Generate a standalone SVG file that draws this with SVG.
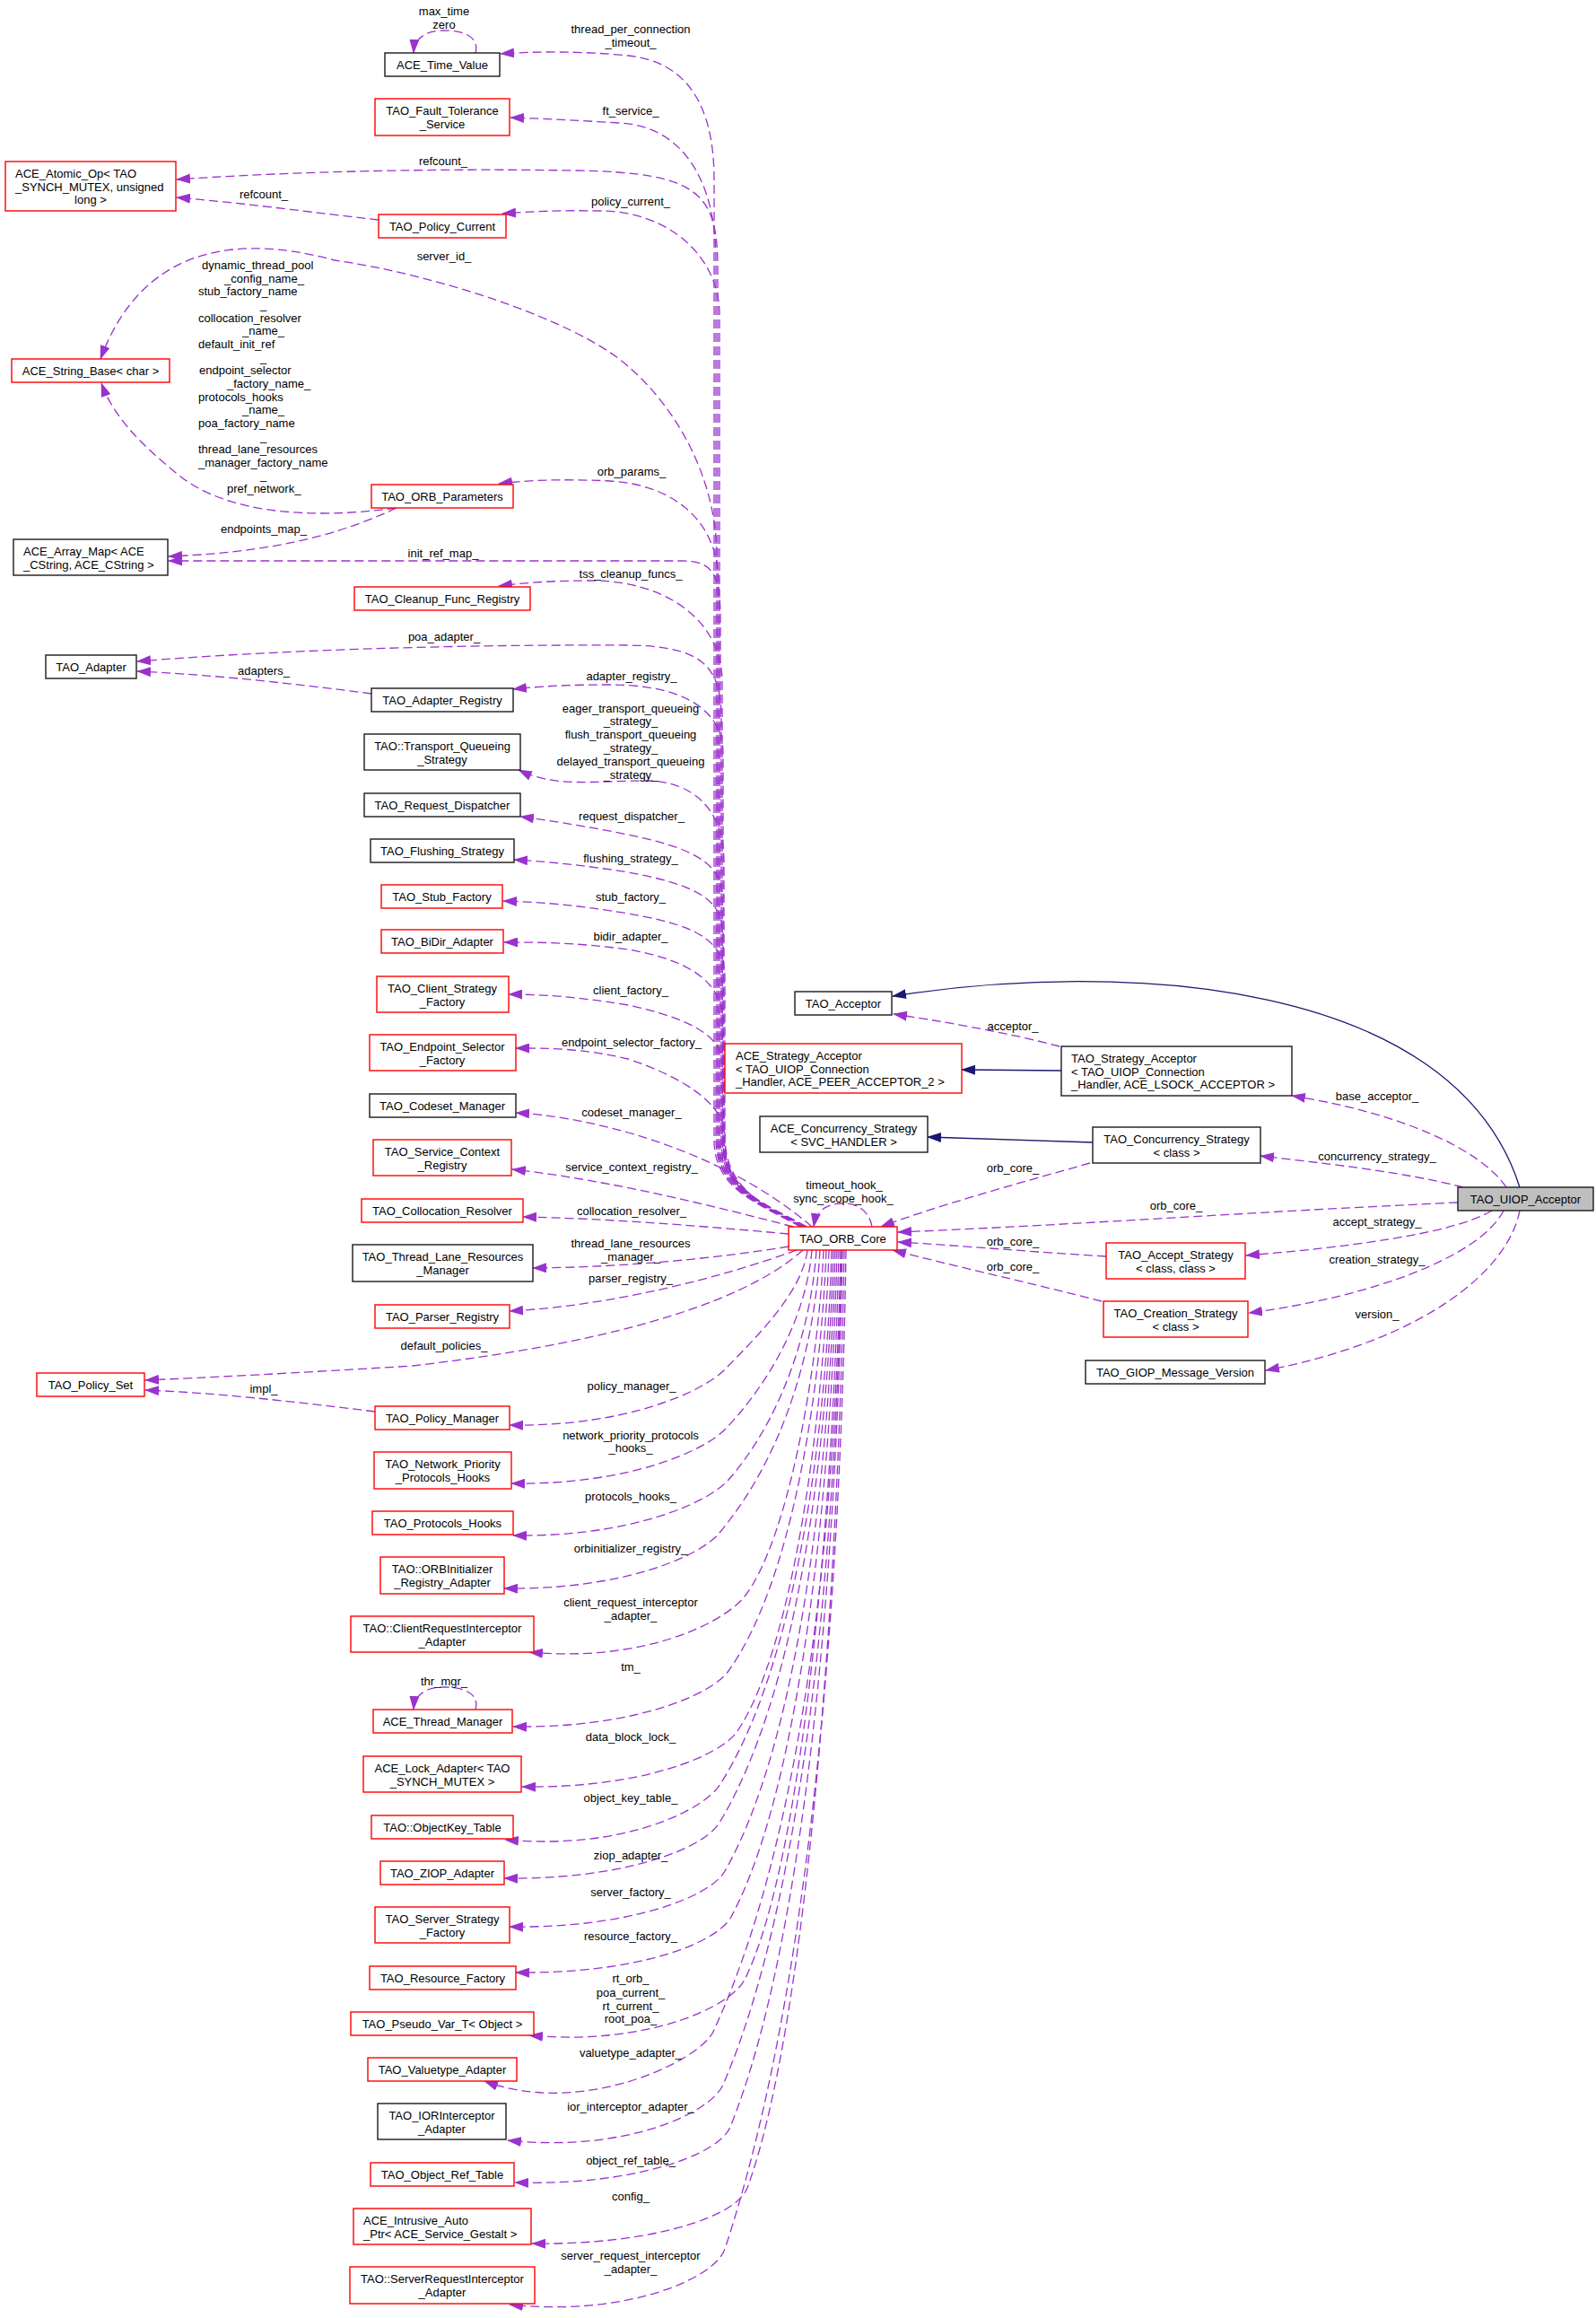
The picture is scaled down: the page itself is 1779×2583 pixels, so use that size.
<svg xmlns="http://www.w3.org/2000/svg" width="1779" height="2583" viewBox="0 0 1779 2583">
<style>
text{font-family:"Liberation Sans",Arial,Helvetica,sans-serif;font-size:13px;fill:#000}
.m{text-anchor:middle}
.s{text-anchor:start}
rect{fill:#fff;stroke-width:1.4}
.r rect{stroke:#ff0000}
.b rect{stroke:#1a1a1a}
.g rect{stroke:#1a1a1a;fill:#bfbfbf}
.e{fill:none;stroke:#9a32cd;stroke-width:1.3;stroke-dasharray:10,5;marker-end:url(#ap)}
.i{fill:none;stroke:#191970;stroke-width:1.3;marker-end:url(#an)}
</style>
<defs>
<marker id="ap" viewBox="0 0 16 11" refX="15" refY="5.5" markerWidth="16" markerHeight="11" markerUnits="userSpaceOnUse" orient="auto"><path d="M0,0 L16,5.5 L0,11 z" fill="#9a32cd"/></marker>
<marker id="an" viewBox="0 0 16 11" refX="15" refY="5.5" markerWidth="16" markerHeight="11" markerUnits="userSpaceOnUse" orient="auto"><path d="M0,0 L16,5.5 L0,11 z" fill="#191970"/></marker>
</defs>
<rect x="0" y="0" width="1779" height="2583" style="fill:#fff;stroke:none"/>

<g id="edges">
<path class="e" d="M893,1367 C843,1340 796,1325 796,1270 L796,200 C796,110 760,68 700,62 C650,57 600,57 558,60"/>
<path class="e" d="M895,1367 C845,1340 798,1325 798,1270 L798,290 C798,200 760,140 690,137 C640,134 600,132 569,131"/>
<path class="e" d="M897,1367 C847,1340 800,1325 800,1270 L800,300 C800,215 780,192 640,190 C450,187 300,193 197,200"/>
<path class="e" d="M899,1367 C849,1340 802,1325 802,1270 L802,350 C802,290 750,236 670,235 C620,234 590,236 560,238"/>
<path class="e" d="M893,1367 C843,1340 799,1325 799,1270 L799,620 C799,540 760,460 700,408 C640,355 480,305 373,290 C270,262 160,270 112,400"/>
<path class="e" d="M895,1367 C845,1340 801,1325 801,1270 L801,650 C801,580 750,540 680,536 C620,533 580,536 556,539"/>
<path class="e" d="M897,1367 C847,1340 803,1325 803,1270 L803,690 C803,640 795,625 760,625 L188,625"/>
<path class="e" d="M899,1367 C849,1340 805,1325 805,1270 L805,760 C805,690 740,647 660,647 C610,647 580,650 556,653"/>
<path class="e" d="M893,1367 C843,1340 804,1325 804,1270 L804,800 C804,740 780,720 700,719 C500,718 300,725 153,737"/>
<path class="e" d="M895,1367 C845,1340 806,1325 806,1270 L806,840 C806,790 760,763 680,763 C630,763 600,765 572,768"/>
<path class="e" d="M897,1367 C847,1340 807,1325 807,1270 L807,960 C807,900 770,870 720,870 C660,870 620,878 578,858"/>
<path class="e" d="M899,1367 C849,1340 805,1325 805,1270 L805,1000 C805,960 770,945 700,930 C650,920 610,914 580,910"/>
<path class="e" d="M893,1367 C843,1340 806,1325 806,1270 L806,1040 C806,1000 770,985 700,972 C650,964 610,960 573,958"/>
<path class="e" d="M895,1367 C845,1340 808,1325 808,1270 L808,1090 C808,1045 770,1030 700,1018 C640,1008 600,1005 561,1004"/>
<path class="e" d="M897,1367 C847,1340 806,1325 806,1270 L806,1140 C806,1095 770,1070 700,1058 C640,1050 600,1050 562,1050"/>
<path class="e" d="M899,1367 C849,1340 807,1325 807,1270 L807,1190 C807,1155 770,1135 700,1120 C640,1110 600,1108 567,1108"/>
<path class="e" d="M893,1367 C843,1340 808,1320 808,1265 C808,1230 760,1200 700,1180 C650,1168 610,1168 575,1168"/>
<path class="e" d="M905,1367 C850,1320 780,1285 700,1262 C650,1248 610,1242 575,1240"/>
<path class="e" d="M884,1367 C800,1345 680,1315 571,1303"/>
<path class="e" d="M879,1375 C780,1366 680,1358 583,1356"/>
<path class="e" d="M879,1389 C800,1402 700,1412 594,1413"/>
<path class="e" d="M888,1393 C800,1425 680,1455 568,1461"/>
<path class="e" d="M895,1393 C820,1460 650,1500 460,1522 C330,1530 230,1535 162,1538"/>
<path class="e" d="M900,1393 C894,1440 845,1488 808,1526 C783,1551 698,1590 568,1588"/>
<path class="e" d="M905,1393 C899,1462 864,1533 810,1591 C786,1617 700,1655 570,1653"/>
<path class="e" d="M910,1393 C904,1483 870,1583 812,1649 C789,1675 702,1713 572,1711"/>
<path class="e" d="M914,1393 C908,1503 874,1622 802,1708 C780,1735 692,1772 562,1770"/>
<path class="e" d="M918,1393 C912,1528 878,1717 830,1779 C808,1807 720,1853 590,1841"/>
<path class="e" d="M921,1393 C915,1557 881,1766 812,1862 C792,1890 702,1926 572,1924"/>
<path class="e" d="M924,1393 C918,1581 884,1837 822,1929 C802,1958 712,1993 582,1991"/>
<path class="e" d="M927,1393 C921,1601 887,1855 803,1988 C784,2018 693,2062 563,2050"/>
<path class="e" d="M929,1393 C923,1616 889,1887 802,2031 C784,2061 692,2095 562,2093"/>
<path class="e" d="M931,1393 C925,1635 891,1940 808,2085 C791,2115 698,2149 568,2147"/>
<path class="e" d="M933,1393 C927,1653 893,1991 815,2136 C798,2167 705,2200 575,2198"/>
<path class="e" d="M935,1393 C929,1678 895,2075 830,2206 C814,2237 720,2280 590,2268"/>
<path class="e" d="M937,1393 C931,1698 897,2044 795,2264 C780,2296 650,2360 540,2319"/>
<path class="e" d="M938,1393 C932,1719 898,2110 806,2323 C792,2355 696,2399 566,2385"/>
<path class="e" d="M939,1393 C933,1735 899,2160 814,2370 C801,2402 704,2436 574,2432"/>
<path class="e" d="M941,1393 C935,1759 901,2253 833,2438 C821,2471 723,2502 593,2500"/>
<path class="e" d="M943,1393 C937,1783 903,2219 808,2506 C797,2539 698,2582 568,2568"/>
<path class="e" d="M422,245 C350,237 270,226 197,220"/>
<path class="e" d="M442,566 C340,580 250,570 200,530 C150,490 125,460 113,427"/>
<path class="e" d="M442,566 C390,590 320,615 188,620"/>
<path class="e" d="M414,773 C330,762 240,752 153,748"/>
<path class="e" d="M418,1573 C330,1562 240,1552 162,1549"/>
<path class="e" d="M1181,1166 C1120,1150 1050,1138 996,1130"/>
<path class="i" d="M1183,1193 L1072,1192"/>
<path class="i" d="M1218,1273 L1034,1267"/>
<path class="i" d="M1694,1323 C1620,1090 1250,1070 995,1110"/>
<path class="e" d="M1679,1323 C1650,1280 1560,1240 1440,1221"/>
<path class="e" d="M1631,1323 C1560,1305 1480,1297 1405,1288"/>
<path class="e" d="M1625,1340 C1400,1350 1200,1365 1001,1373"/>
<path class="e" d="M1663,1349 C1620,1375 1500,1390 1389,1399"/>
<path class="e" d="M1676,1349 C1650,1400 1530,1445 1392,1463"/>
<path class="e" d="M1694,1349 C1680,1420 1580,1495 1411,1527"/>
<path class="e" d="M1215,1296 C1130,1320 1040,1345 982,1367"/>
<path class="e" d="M1233,1400 C1150,1395 1070,1388 1001,1384"/>
<path class="e" d="M1228,1450 C1150,1430 1060,1410 995,1393"/>
<path class="e" d="M972,1367 C968,1345 950,1340 937,1341 C922,1342 910,1348 907,1367"/>
<path class="e" d="M530,59 C535,40 515,34 495,34 C475,34 462,42 461,59"/>
<path class="e" d="M530,1905 C535,1886 515,1880 495,1880 C475,1880 462,1888 461,1905"/>
</g>

<g id="edge-labels">
<text class="m" x="495" y="17">max_time</text>
<text class="m" x="495" y="32">zero</text>
<text class="m" x="703" y="37">thread_per_connection</text>
<text class="m" x="703" y="52">_timeout_</text>
<text class="m" x="703" y="128">ft_service_</text>
<text class="m" x="494" y="184">refcount_</text>
<text class="m" x="294" y="221">refcount_</text>
<text class="m" x="703" y="229">policy_current_</text>
<text class="m" x="495" y="290">server_id_</text>
<text class="s" x="225" y="300">dynamic_thread_pool</text>
<text class="s" x="250" y="314.7">_config_name_</text>
<text class="s" x="221" y="329.3">stub_factory_name</text>
<text class="s" x="290" y="344">_</text>
<text class="s" x="221" y="358.6">collocation_resolver</text>
<text class="s" x="270" y="373.3">_name_</text>
<text class="s" x="221" y="387.9">default_init_ref</text>
<text class="s" x="290" y="402.6">_</text>
<text class="s" x="222" y="417.2">endpoint_selector</text>
<text class="s" x="253" y="431.9">_factory_name_</text>
<text class="s" x="221" y="446.5">protocols_hooks</text>
<text class="s" x="270" y="461.2">_name_</text>
<text class="s" x="221" y="475.8">poa_factory_name</text>
<text class="s" x="290" y="490.5">_</text>
<text class="s" x="221" y="505.1">thread_lane_resources</text>
<text class="s" x="221" y="519.8">_manager_factory_name</text>
<text class="s" x="290" y="534.4">_</text>
<text class="s" x="253" y="549.1">pref_network_</text>
<text class="m" x="704" y="530">orb_params_</text>
<text class="m" x="294" y="594">endpoints_map_</text>
<text class="m" x="494" y="621">init_ref_map_</text>
<text class="m" x="703" y="644">tss_cleanup_funcs_</text>
<text class="m" x="495" y="714">poa_adapter_</text>
<text class="m" x="294" y="752">adapters_</text>
<text class="m" x="704" y="758">adapter_registry_</text>
<text class="m" x="703" y="794">eager_transport_queueing</text>
<text class="m" x="703" y="808">_strategy_</text>
<text class="m" x="703" y="823">flush_transport_queueing</text>
<text class="m" x="703" y="838">_strategy_</text>
<text class="m" x="703" y="853">delayed_transport_queueing</text>
<text class="m" x="703" y="868">_strategy_</text>
<text class="m" x="704" y="914">request_dispatcher_</text>
<text class="m" x="703" y="961">flushing_strategy_</text>
<text class="m" x="703" y="1004">stub_factory_</text>
<text class="m" x="703" y="1048">bidir_adapter_</text>
<text class="m" x="703" y="1108">client_factory_</text>
<text class="m" x="704" y="1166">endpoint_selector_factory_</text>
<text class="m" x="704" y="1244">codeset_manager_</text>
<text class="m" x="704" y="1305">service_context_registry_</text>
<text class="m" x="704" y="1354">collocation_resolver_</text>
<text class="m" x="703" y="1390">thread_lane_resources</text>
<text class="m" x="703" y="1405">_manager_</text>
<text class="m" x="703" y="1429">parser_registry_</text>
<text class="m" x="495" y="1504">default_policies_</text>
<text class="m" x="294" y="1552">impl_</text>
<text class="m" x="704" y="1549">policy_manager_</text>
<text class="m" x="703" y="1604">network_priority_protocols</text>
<text class="m" x="703" y="1618">_hooks_</text>
<text class="m" x="703" y="1672">protocols_hooks_</text>
<text class="m" x="703" y="1730">orbinitializer_registry_</text>
<text class="m" x="703" y="1790">client_request_interceptor</text>
<text class="m" x="703" y="1805">_adapter_</text>
<text class="m" x="703" y="1862">tm_</text>
<text class="m" x="495" y="1878">thr_mgr_</text>
<text class="m" x="703" y="1940">data_block_lock_</text>
<text class="m" x="703" y="2008">object_key_table_</text>
<text class="m" x="703" y="2072">ziop_adapter_</text>
<text class="m" x="703" y="2113">server_factory_</text>
<text class="m" x="703" y="2162">resource_factory_</text>
<text class="m" x="703" y="2209">rt_orb_</text>
<text class="m" x="703" y="2225">poa_current_</text>
<text class="m" x="703" y="2240">rt_current_</text>
<text class="m" x="703" y="2254">root_poa_</text>
<text class="m" x="703" y="2292">valuetype_adapter_</text>
<text class="m" x="703" y="2352">ior_interceptor_adapter_</text>
<text class="m" x="703" y="2412">object_ref_table_</text>
<text class="m" x="703" y="2452">config_</text>
<text class="m" x="703" y="2518">server_request_interceptor</text>
<text class="m" x="703" y="2533">_adapter_</text>
<text class="m" x="1129" y="1148">acceptor_</text>
<text class="m" x="1535" y="1226">base_acceptor_</text>
<text class="m" x="1535" y="1293">concurrency_strategy_</text>
<text class="m" x="1129" y="1306">orb_core_</text>
<text class="m" x="941" y="1325">timeout_hook_</text>
<text class="m" x="940" y="1340">sync_scope_hook_</text>
<text class="m" x="1311" y="1348">orb_core_</text>
<text class="m" x="1535" y="1366">accept_strategy_</text>
<text class="m" x="1129" y="1388">orb_core_</text>
<text class="m" x="1535" y="1408">creation_strategy_</text>
<text class="m" x="1129" y="1416">orb_core_</text>
<text class="m" x="1535" y="1469">version_</text>
</g>

<g id="n1" class="b"><rect x="429" y="59" width="128" height="26"/><text class="m" x="493" y="76.5">ACE_Time_Value</text></g>
<g id="n2" class="r"><rect x="418" y="110" width="150" height="41"/><text class="m" x="493" y="128">TAO_Fault_Tolerance</text><text class="m" x="493" y="142.5">_Service</text></g>
<g id="n3" class="r"><rect x="6" y="180" width="190" height="55"/><text class="s" x="17" y="198">ACE_Atomic_Op&lt; TAO</text><text class="s" x="17" y="212.5">_SYNCH_MUTEX, unsigned</text><text class="m" x="101" y="227">long &gt;</text></g>
<g id="n4" class="r"><rect x="422" y="239" width="142" height="26"/><text class="m" x="493" y="256.5">TAO_Policy_Current</text></g>
<g id="n5" class="r"><rect x="13" y="400" width="176" height="26"/><text class="m" x="101" y="417.5">ACE_String_Base&lt; char &gt;</text></g>
<g id="n6" class="r"><rect x="414" y="540" width="158" height="26"/><text class="m" x="493" y="557.5">TAO_ORB_Parameters</text></g>
<g id="n7" class="b"><rect x="15" y="601" width="172" height="40"/><text class="s" x="26" y="619">ACE_Array_Map&lt; ACE</text><text class="s" x="26" y="633.5">_CString, ACE_CString &gt;</text></g>
<g id="n8" class="r"><rect x="395" y="654" width="196" height="26"/><text class="m" x="493" y="671.5">TAO_Cleanup_Func_Registry</text></g>
<g id="n9" class="b"><rect x="51" y="730" width="101" height="26"/><text class="m" x="101.5" y="747.5">TAO_Adapter</text></g>
<g id="n10" class="b"><rect x="414" y="767" width="158" height="26"/><text class="m" x="493" y="784.5">TAO_Adapter_Registry</text></g>
<g id="n11" class="b"><rect x="406" y="818" width="174" height="40"/><text class="m" x="493" y="836">TAO::Transport_Queueing</text><text class="m" x="493" y="850.5">_Strategy</text></g>
<g id="n12" class="b"><rect x="406" y="884" width="174" height="26"/><text class="m" x="493" y="901.5">TAO_Request_Dispatcher</text></g>
<g id="n13" class="b"><rect x="413" y="935" width="160" height="26"/><text class="m" x="493" y="952.5">TAO_Flushing_Strategy</text></g>
<g id="n14" class="r"><rect x="425" y="986" width="135" height="26"/><text class="m" x="492.5" y="1003.5">TAO_Stub_Factory</text></g>
<g id="n15" class="r"><rect x="425" y="1036" width="136" height="26"/><text class="m" x="493" y="1053.5">TAO_BiDir_Adapter</text></g>
<g id="n16" class="r"><rect x="420" y="1088" width="147" height="40"/><text class="m" x="493" y="1106">TAO_Client_Strategy</text><text class="m" x="493" y="1120.5">_Factory</text></g>
<g id="n17" class="r"><rect x="412" y="1153" width="163" height="40"/><text class="m" x="493" y="1171">TAO_Endpoint_Selector</text><text class="m" x="493" y="1185.5">_Factory</text></g>
<g id="n18" class="b"><rect x="412" y="1219" width="163" height="26"/><text class="m" x="493" y="1236.5">TAO_Codeset_Manager</text></g>
<g id="n19" class="r"><rect x="416" y="1270" width="154" height="40"/><text class="m" x="493" y="1288">TAO_Service_Context</text><text class="m" x="493" y="1302.5">_Registry</text></g>
<g id="n20" class="r"><rect x="403" y="1336" width="180" height="26"/><text class="m" x="493" y="1353.5">TAO_Collocation_Resolver</text></g>
<g id="n21" class="b"><rect x="393" y="1387" width="201" height="41"/><text class="m" x="493.5" y="1405">TAO_Thread_Lane_Resources</text><text class="m" x="493.5" y="1419.5">_Manager</text></g>
<g id="n22" class="r"><rect x="418" y="1454" width="150" height="26"/><text class="m" x="493" y="1471.5">TAO_Parser_Registry</text></g>
<g id="n23" class="r"><rect x="41" y="1530" width="120" height="26"/><text class="m" x="101" y="1547.5">TAO_Policy_Set</text></g>
<g id="n24" class="r"><rect x="418" y="1567" width="150" height="26"/><text class="m" x="493" y="1584.5">TAO_Policy_Manager</text></g>
<g id="n25" class="r"><rect x="417" y="1618" width="153" height="41"/><text class="m" x="493.5" y="1636">TAO_Network_Priority</text><text class="m" x="493.5" y="1650.5">_Protocols_Hooks</text></g>
<g id="n26" class="r"><rect x="415" y="1684" width="157" height="26"/><text class="m" x="493.5" y="1701.5">TAO_Protocols_Hooks</text></g>
<g id="n27" class="r"><rect x="424" y="1735" width="138" height="41"/><text class="m" x="493" y="1753">TAO::ORBInitializer</text><text class="m" x="493" y="1767.5">_Registry_Adapter</text></g>
<g id="n28" class="r"><rect x="391" y="1801" width="204" height="40"/><text class="m" x="493" y="1819">TAO::ClientRequestInterceptor</text><text class="m" x="493" y="1833.5">_Adapter</text></g>
<g id="n29" class="r"><rect x="416" y="1905" width="155" height="26"/><text class="m" x="493.5" y="1922.5">ACE_Thread_Manager</text></g>
<g id="n30" class="r"><rect x="405" y="1957" width="176" height="40"/><text class="m" x="493" y="1975">ACE_Lock_Adapter&lt; TAO</text><text class="m" x="493" y="1989.5">_SYNCH_MUTEX &gt;</text></g>
<g id="n31" class="r"><rect x="414" y="2023" width="158" height="26"/><text class="m" x="493" y="2040.5">TAO::ObjectKey_Table</text></g>
<g id="n32" class="r"><rect x="424" y="2074" width="138" height="26"/><text class="m" x="493" y="2091.5">TAO_ZIOP_Adapter</text></g>
<g id="n33" class="r"><rect x="418" y="2125" width="150" height="40"/><text class="m" x="493" y="2143">TAO_Server_Strategy</text><text class="m" x="493" y="2157.5">_Factory</text></g>
<g id="n34" class="r"><rect x="412" y="2191" width="163" height="26"/><text class="m" x="493.5" y="2208.5">TAO_Resource_Factory</text></g>
<g id="n35" class="r"><rect x="391" y="2242" width="204" height="26"/><text class="m" x="493" y="2259.5">TAO_Pseudo_Var_T&lt; Object &gt;</text></g>
<g id="n36" class="r"><rect x="410" y="2293" width="166" height="26"/><text class="m" x="493" y="2310.5">TAO_Valuetype_Adapter</text></g>
<g id="n37" class="b"><rect x="421" y="2344" width="143" height="40"/><text class="m" x="492.5" y="2362">TAO_IORInterceptor</text><text class="m" x="492.5" y="2376.5">_Adapter</text></g>
<g id="n38" class="r"><rect x="413" y="2410" width="160" height="26"/><text class="m" x="493" y="2427.5">TAO_Object_Ref_Table</text></g>
<g id="n39" class="r"><rect x="394" y="2461" width="198" height="40"/><text class="s" x="405" y="2479">ACE_Intrusive_Auto</text><text class="s" x="405" y="2493.5">_Ptr&lt; ACE_Service_Gestalt &gt;</text></g>
<g id="n40" class="r"><rect x="390" y="2526" width="206" height="41"/><text class="m" x="493" y="2544">TAO::ServerRequestInterceptor</text><text class="m" x="493" y="2558.5">_Adapter</text></g>
<g id="n41" class="b"><rect x="886" y="1105" width="108" height="26"/><text class="m" x="940" y="1122.5">TAO_Acceptor</text></g>
<g id="n42" class="r"><rect x="808" y="1163" width="264" height="55"/><text class="s" x="820" y="1181">ACE_Strategy_Acceptor</text><text class="s" x="820" y="1195.5">&lt; TAO_UIOP_Connection</text><text class="s" x="820" y="1210">_Handler, ACE_PEER_ACCEPTOR_2 &gt;</text></g>
<g id="n43" class="b"><rect x="1183" y="1166" width="257" height="55"/><text class="s" x="1194" y="1184">TAO_Strategy_Acceptor</text><text class="s" x="1194" y="1198.5">&lt; TAO_UIOP_Connection</text><text class="s" x="1194" y="1213">_Handler, ACE_LSOCK_ACCEPTOR &gt;</text></g>
<g id="n44" class="b"><rect x="847" y="1244" width="187" height="40"/><text class="m" x="940.5" y="1262">ACE_Concurrency_Strategy</text><text class="m" x="940.5" y="1276.5">&lt; SVC_HANDLER &gt;</text></g>
<g id="n45" class="b"><rect x="1218" y="1256" width="187" height="40"/><text class="m" x="1311.5" y="1274">TAO_Concurrency_Strategy</text><text class="m" x="1311.5" y="1288.5">&lt; class &gt;</text></g>
<g id="n46" class="g"><rect x="1625" y="1323" width="151" height="26"/><text class="m" x="1700.5" y="1340.5">TAO_UIOP_Acceptor</text></g>
<g id="n47" class="r"><rect x="879" y="1367" width="121" height="26"/><text class="m" x="939.5" y="1384.5">TAO_ORB_Core</text></g>
<g id="n48" class="r"><rect x="1233" y="1385" width="155" height="40"/><text class="m" x="1310.5" y="1403">TAO_Accept_Strategy</text><text class="m" x="1310.5" y="1417.5">&lt; class, class &gt;</text></g>
<g id="n49" class="r"><rect x="1230" y="1450" width="161" height="40"/><text class="m" x="1310.5" y="1468">TAO_Creation_Strategy</text><text class="m" x="1310.5" y="1482.5">&lt; class &gt;</text></g>
<g id="n50" class="b"><rect x="1210" y="1516" width="200" height="26"/><text class="m" x="1310" y="1533.5">TAO_GIOP_Message_Version</text></g>
</svg>
